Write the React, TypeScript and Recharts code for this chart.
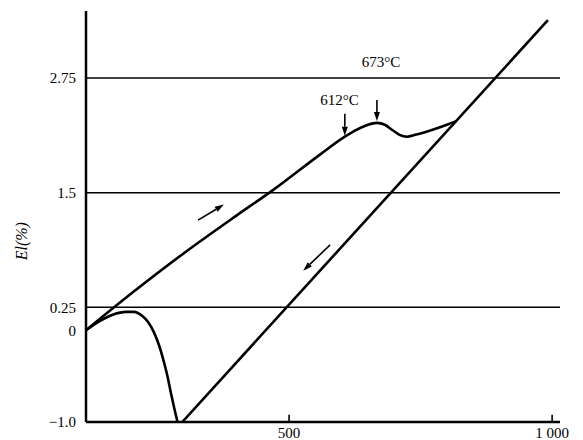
import {
  Line,
  LineChart,
  ReferenceDot,
  ReferenceLine,
  XAxis,
  YAxis,
} from "recharts";

// heating curve (upper branch), temperature in °C vs elongation %
const heatingT = [114, 200, 300, 400, 470, 560, 606, 630, 650, 667, 682, 697, 710, 724, 740, 770, 800, 818];
const heatingV = [0, 0.4, 0.84, 1.25, 1.53, 1.92, 2.11, 2.19, 2.24, 2.26, 2.24, 2.18, 2.13, 2.11, 2.13, 2.18, 2.24, 2.28];

// cooling line (straight)
const coolingT = [297, 992];
const coolingV = [-1.0, 3.38];

// lower hump curve starting at origin
const lowerT = [114, 140, 165, 190, 205, 220, 232, 243, 252, 260, 268, 276, 283, 288];
const lowerV = [0, 0.1, 0.17, 0.2, 0.2, 0.16, 0.09, -0.02, -0.15, -0.3, -0.48, -0.7, -0.88, -1.0];

const gridLevels = [0.25, 1.5, 2.75];
const yTicks = [-1, 0, 0.25, 1.5, 2.75];
const xTicks = [500, 1000];

const FONT = "'Liberation Serif', 'DejaVu Serif', serif";

const toPoints = (t: number[], v: number[]) => t.map((x, i) => ({ t: x, v: v[i] }));

const heating = toPoints(heatingT, heatingV);
const cooling = toPoints(coolingT, coolingV);
const lower = toPoints(lowerT, lowerV);

// annotation arrows: [fromT, fromV, toT, toV]
const arrows: [number, number, number, number][] = [
  [327, 1.2, 376, 1.37],
  [578, 0.93, 527, 0.65],
  [606, 2.36, 606, 2.12],
  [667, 2.51, 667, 2.28],
];

const notes = [
  { t: 596, v: 2.51, text: "612°C" },
  { t: 675, v: 2.93, text: "673°C" },
];

function Arrow(props: any) {
  const { x1, y1, x2, y2 } = props;
  if (![x1, y1, x2, y2].every((n) => Number.isFinite(n))) return null;
  const dx = x2 - x1;
  const dy = y2 - y1;
  const len = Math.hypot(dx, dy) || 1;
  const ux = dx / len;
  const uy = dy / len;
  const head = 9;
  const half = 3;
  const bx = x2 - ux * head;
  const by = y2 - uy * head;
  const pts = `${x2},${y2} ${bx - uy * half},${by + ux * half} ${bx + uy * half},${by - ux * half}`;
  return (
    <g>
      <line x1={x1} y1={y1} x2={bx} y2={by} stroke="#000" strokeWidth={1.6} />
      <polygon points={pts} fill="#000" />
    </g>
  );
}

function TickMark(props: any) {
  const { x1, y1, x2, y2 } = props;
  return <line x1={x1} y1={y1} x2={x2} y2={y2} stroke="#000" strokeWidth={1.6} />;
}

function AxisTitle({ viewBox }: any) {
  const vb = viewBox ?? { x: 0, y: 11, width: 86, height: 411 };
  const x = vb.x + 22;
  const y = vb.y + vb.height * 0.56;
  return (
    <text
      x={x}
      y={y}
      transform={`rotate(-90 ${x} ${y})`}
      textAnchor="middle"
      dominantBaseline="central"
      fontFamily={FONT}
      fontStyle="italic"
      fontSize={16}
      fill="#000"
    >
      El(%)
    </text>
  );
}

const fmtY = (v: number) => (v === -1 ? "\u22121.0" : String(v));
const fmtX = (v: number) => (v === 1000 ? "1 000" : String(v));

export default function App() {
  return (
    <div style={{ position: "absolute", left: 0, top: 0, width: 583, height: 440, background: "#fff" }}>
      <LineChart width={583} height={440} margin={{ top: 11, right: 23, bottom: 0, left: 0 }}>
        <XAxis
          type="number"
          dataKey="t"
          domain={[114, 1015]}
          ticks={xTicks}
          tickFormatter={fmtX}
          allowDataOverflow
          height={18}
          tickSize={0}
          tickMargin={5}
          tickLine={false}
          axisLine={{ stroke: "#000", strokeWidth: 2.5 }}
          tick={{ fontSize: 15, fill: "#000", fontFamily: FONT }}
        />
        <YAxis
          type="number"
          dataKey="v"
          domain={[-1, 3.48]}
          ticks={yTicks}
          tickFormatter={fmtY}
          allowDataOverflow
          width={86}
          tickSize={0}
          tickMargin={10}
          tickLine={false}
          axisLine={{ stroke: "#000", strokeWidth: 2.5 }}
          tick={{ fontSize: 15, fill: "#000", fontFamily: FONT }}
          label={<AxisTitle />}
        />
        {gridLevels.map((g) => (
          <ReferenceLine key={g} y={g} stroke="#000" strokeWidth={1.5} />
        ))}
        {xTicks.map((t) => (
          <ReferenceLine
            key={`tick-${t}`}
            segment={[{ x: t, y: -1 }, { x: t, y: -0.92 }]}
            shape={(p: any) => <TickMark {...p} />}
          />
        ))}
        <Line data={lower} dataKey="v" type="monotone" stroke="#000" strokeWidth={2.6} dot={false} isAnimationActive={false} />
        <Line data={heating} dataKey="v" type="monotone" stroke="#000" strokeWidth={2.6} dot={false} isAnimationActive={false} />
        <Line data={cooling} dataKey="v" type="linear" stroke="#000" strokeWidth={2.6} dot={false} isAnimationActive={false} />
        {arrows.map(([a, b, c, d], i) => (
          <ReferenceLine
            key={`arrow-${i}`}
            segment={[{ x: a, y: b }, { x: c, y: d }]}
            shape={(p: any) => <Arrow {...p} />}
          />
        ))}
        {notes.map((n) => (
          <ReferenceDot
            key={n.text}
            x={n.t}
            y={n.v}
            r={0}
            fill="none"
            stroke="none"
            label={{ value: n.text, position: "center", fontSize: 15, fill: "#000", fontFamily: FONT }}
          />
        ))}
      </LineChart>
    </div>
  );
}
